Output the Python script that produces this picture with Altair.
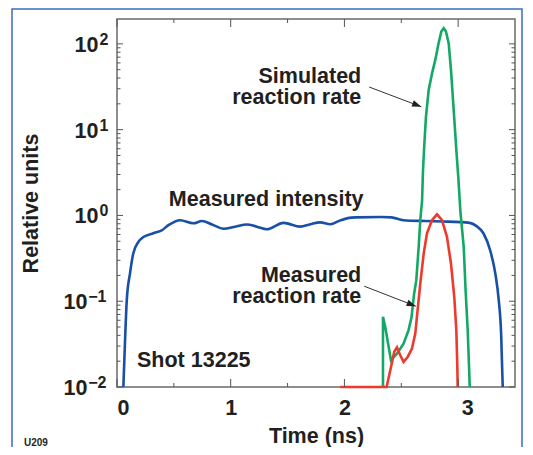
import altair as alt
import pandas as pd

# ---- data ----
blue_t = [0.056, 0.073, 0.086, 0.114, 0.143, 0.188, 0.232, 0.32, 0.393, 0.452, 0.555, 0.672, 0.746, 0.84,
          0.936, 1.04, 1.141, 1.23, 1.317, 1.464, 1.611, 1.70, 1.787, 1.875, 1.96, 2.03, 2.1, 2.324, 2.414,
          2.518, 2.713, 2.862, 3.102, 3.162, 3.222, 3.282, 3.327, 3.357, 3.378, 3.392]
blue_v = [0.01, 0.042, 0.103, 0.21, 0.36, 0.49, 0.56, 0.62, 0.67, 0.77, 0.88, 0.81, 0.86, 0.78,
          0.70, 0.74, 0.785, 0.74, 0.69, 0.82, 0.74, 0.79, 0.83, 0.79, 0.87, 0.93, 0.95, 0.96, 0.95,
          0.88, 0.86, 0.85, 0.82, 0.75, 0.62, 0.39, 0.21, 0.103, 0.042, 0.01]

green_t = [2.339, 2.339, 2.359, 2.409, 2.462, 2.52, 2.564, 2.59, 2.612, 2.632, 2.653, 2.667, 2.683, 2.691,
           2.703, 2.717, 2.741, 2.77, 2.799, 2.828, 2.852, 2.873, 2.893, 2.917, 2.937, 2.961, 2.984,
           3.002, 3.02, 3.049, 3.066, 3.084, 3.096, 3.102]
green_v = [0.01, 0.066, 0.050, 0.0205, 0.0245, 0.032, 0.046, 0.065, 0.12, 0.176, 0.43, 0.88, 1.5, 3.37,
           6.9, 14.1, 29, 45, 65, 101.6, 139, 152, 139, 101, 49.5, 16.9, 5.8,
           2.7, 1.1, 0.43, 0.13, 0.046, 0.017, 0.01]

red_t = [1.963, 2.371, 2.409, 2.438, 2.462, 2.491, 2.52, 2.556, 2.594, 2.623, 2.644, 2.667, 2.697,
         2.726, 2.77, 2.814, 2.858, 2.902, 2.937, 2.966, 2.984, 2.993, 2.996]
red_v = [0.01, 0.01, 0.017, 0.0257, 0.029, 0.0234, 0.0196, 0.0224, 0.028, 0.042, 0.08, 0.16, 0.36,
         0.62, 0.88, 1.03, 0.88, 0.56, 0.275, 0.112, 0.046, 0.017, 0.01]

y_major = [0.01, 0.1, 1, 10, 100]
y_base = ["10", "10", "10", "10", "10"]
y_exp = ["\u22122", "\u22121", "0", "1", "2"]
y_minor = [m * d for d in [0.01, 0.1, 1, 10] for m in range(2, 10)]
x_major = [0, 1, 2, 3]
x_minor = [0.5, 1.5, 2.5]
x_labels = ["0", "1", "2", "3"]

# annotations (text anchored in data coordinates)
ann_right_text = ["Simulated", "reaction rate", "Measured", "reaction rate"]
ann_right_t = [2.148, 2.148, 2.148, 2.148]
ann_right_v = [35.3, 19.9, 0.168, 0.0955]
ann_center_text = ["Measured intensity"]
ann_center_t = [1.312]
ann_center_v = [1.294]
ann_left_text = ["Shot 13225"]
ann_left_t = [0.176]
ann_left_v = [0.0171]
arrow_t1 = [2.218, 2.174]
arrow_v1 = [31.4, 0.1496]
arrow_t2 = [2.676, 2.628]
arrow_v2 = [18.5, 0.0875]

W, H = 398, 368
FONT = "Liberation Sans"
INK = "#231f20"
BLUE, GREEN, RED = "#1750a6", "#14a866", "#ee3a2c"
FS = 21.5

xs = alt.Scale(domain=[0, 3.5], nice=False, zero=False)
ys = alt.Scale(type="log", domain=[0.01, 195], nice=False)

xaxis = alt.Axis(values=x_major, labelExpr=" : ".join(
    f"datum.value == {v} ? '{l}'" for v, l in zip(x_major[:-1], x_labels[:-1])) + f" : '{x_labels[-1]}'",
    title="Time (ns)", titleX=W / 2, titleY=55.5, titleBaseline="alphabetic", titleAlign="center",
    labelPadding=10, labelOffset={"condition": {"test": "datum.value == 3", "value": 9}, "value": 0})
yaxis = alt.Axis(values=y_major, labels=False, title="Relative units",
                 titleX=-85.5, titleY=H / 2, titleAngle=-90, titleAlign="center", titleBaseline="middle")


def X(f="t"):
    return alt.X(f"{f}:Q", scale=xs, axis=xaxis)


def Y(f="v"):
    return alt.Y(f"{f}:Q", scale=ys, axis=yaxis)


def line(ts, vs, color, interp):
    df = pd.DataFrame({"t": ts, "v": vs, "i": range(len(ts))})
    return alt.Chart(df).mark_line(color=color, strokeWidth=2.6, interpolate=interp).encode(
        x=X(), y=Y(), order="i:Q")


blue = line(blue_t, blue_v, BLUE, "monotone")
green = line(green_t, green_v, GREEN, "linear")
red = line(red_t, red_v, RED, "linear")

# inward ticks
ymaj = pd.DataFrame({"v": y_major})
ymin = pd.DataFrame({"v": y_minor})
xmaj = pd.DataFrame({"t": x_major})
xmin = pd.DataFrame({"t": x_minor})
TC = "#555555"
ticks = []
for d, L in [(ymaj, 6), (ymin, 3.5)]:
    ticks.append(alt.Chart(d).mark_rule(color=TC, strokeWidth=1).encode(
        y=Y(), x=alt.value(0), x2=alt.value(L)))
    ticks.append(alt.Chart(d).mark_rule(color=TC, strokeWidth=1).encode(
        y=Y(), x=alt.value(W), x2=alt.value(W - L)))
for d, L in [(xmaj, 8), (xmin, 4)]:
    ticks.append(alt.Chart(d).mark_rule(color=TC, strokeWidth=1).encode(
        x=X(), y=alt.value(H), y2=alt.value(H - L)))
    ticks.append(alt.Chart(d).mark_rule(color=TC, strokeWidth=1).encode(
        x=X(), y=alt.value(0), y2=alt.value(L)))

# y tick labels: "10" with a raised exponent
ylab = pd.DataFrame({"v": y_major, "b": y_base, "e": y_exp})
neg = ylab["e"].str.startswith("\u2212")
ylab_neg = ylab[neg]
ylab_pos = ylab[~neg]
LBL = dict(font=FONT, fontWeight="bold", color=INK, align="right", baseline="alphabetic")
ylabels = [
    alt.Chart(ylab_pos).mark_text(fontSize=FS, dy=8, **LBL).encode(
        y=Y(), x=alt.value(-18.5), text="b:N"),
    alt.Chart(ylab_neg).mark_text(fontSize=FS, dy=8, **LBL).encode(
        y=Y(), x=alt.value(-29.5), text="b:N"),
    alt.Chart(ylab_pos).mark_text(fontSize=16, dy=1, **LBL).encode(
        y=Y(), x=alt.value(-8.5), text="e:N"),
    alt.Chart(ylab_neg).mark_text(fontSize=16, dy=1, **LBL).encode(
        y=Y(), x=alt.value(-10.5), text="e:N"),
]

TXT = dict(font=FONT, fontSize=FS, fontWeight="bold", color=INK, baseline="alphabetic")
t_right = alt.Chart(pd.DataFrame({"t": ann_right_t, "v": ann_right_v, "s": ann_right_text})).mark_text(
    align="right", **TXT).encode(x=X(), y=Y(), text="s:N")
t_center = alt.Chart(pd.DataFrame({"t": ann_center_t, "v": ann_center_v, "s": ann_center_text})).mark_text(
    align="center", **TXT).encode(x=X(), y=Y(), text="s:N")
t_left = alt.Chart(pd.DataFrame({"t": ann_left_t, "v": ann_left_v, "s": ann_left_text})).mark_text(
    align="left", **TXT).encode(x=X(), y=Y(), text="s:N")

arr = pd.DataFrame({"t": arrow_t1, "v": arrow_v1, "t2": arrow_t2, "v2": arrow_v2})
arrow_lines = alt.Chart(arr).mark_rule(color="#333333", strokeWidth=1).encode(
    x=X(), y=Y(), x2="t2:Q", y2="v2:Q")
arrow_heads = alt.Chart(arr).mark_point(
    shape="M0,0L-1,-0.36L-1,0.36Z", filled=True, color="#222222", opacity=1, size=340, angle=21
).encode(x=alt.X("t2:Q", scale=xs, axis=xaxis), y=alt.Y("v2:Q", scale=ys, axis=yaxis))

border = alt.Chart(pd.DataFrame({"k": [0]})).mark_rect(
    fill=None, stroke="#3d6cc0", strokeWidth=1.5).encode(
    x=alt.value(-105), x2=alt.value(405), y=alt.value(-10), y2=alt.value(H + 80))
u209 = alt.Chart(pd.DataFrame({"s": ["U209"]})).mark_text(
    font=FONT, fontSize=10, fontWeight="bold", color=INK, align="left", baseline="alphabetic"
).encode(x=alt.value(-93), y=alt.value(426.5), text="s:N")

chart = alt.layer(
    blue, green, red, *ticks, *ylabels, t_right, t_center, t_left, arrow_lines, arrow_heads, border, u209
).properties(
    width=W, height=H,
    autosize=alt.AutoSizeParams(type="none"),
    padding={"left": 109, "top": 11, "right": 8, "bottom": 60},
    background="white",
).configure_view(
    stroke="#6a6a6a", strokeWidth=1.5
).configure_axis(
    domain=False, ticks=False, grid=False,
    labelFont=FONT, labelFontSize=FS, labelFontWeight="bold", labelColor=INK,
    titleFont=FONT, titleFontSize=FS, titleFontWeight="bold", titleColor=INK,
)

chart.save("out.html", embed_options={"renderer": "svg", "actions": False})
